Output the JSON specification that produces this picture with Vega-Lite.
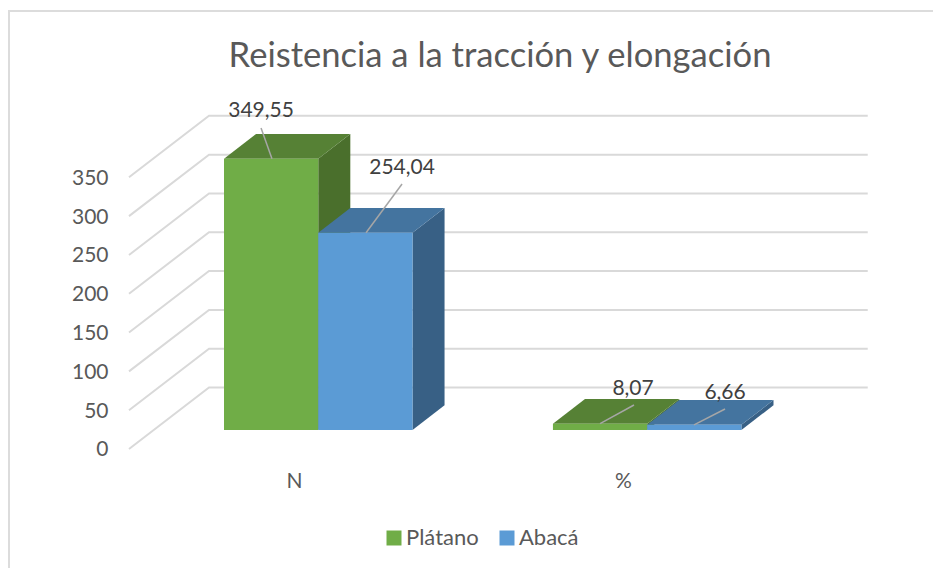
{
"$schema":"https://vega.github.io/schema/vega-lite/v6.json",
"width":933,"height":568,"padding":0,"autosize":"none","background":"white",
"title":{"text":"Reistencia a la tracción y elongación","orient":"top","anchor":"middle","offset":-68,"dx":33.5,"dy":7,"font":"Lato","fontSize":34.6,"fontWeight":"normal","color":"#595959"},
"config":{"view":{"stroke":null},"font":"Lato"},
"datasets":{
"frame":[{"u":-2.281,"v":-178},{"u":-2.281,"v":539.7},{"u":7.53,"v":539.7}],
"grid":[
{"tick":0,"u":-1.008,"v":-24.5},{"tick":0,"u":-0.159,"v":54.7},{"tick":0,"u":6.83,"v":54.7},
{"tick":50,"u":-1.008,"v":25.5},{"tick":50,"u":-0.159,"v":104.7},{"tick":50,"u":6.83,"v":104.7},
{"tick":100,"u":-1.008,"v":75.5},{"tick":100,"u":-0.159,"v":154.7},{"tick":100,"u":6.83,"v":154.7},
{"tick":150,"u":-1.008,"v":125.5},{"tick":150,"u":-0.159,"v":204.7},{"tick":150,"u":6.83,"v":204.7},
{"tick":200,"u":-1.008,"v":175.5},{"tick":200,"u":-0.159,"v":254.7},{"tick":200,"u":6.83,"v":254.7},
{"tick":250,"u":-1.008,"v":225.5},{"tick":250,"u":-0.159,"v":304.7},{"tick":250,"u":6.83,"v":304.7},
{"tick":300,"u":-1.008,"v":275.5},{"tick":300,"u":-0.159,"v":354.7},{"tick":300,"u":6.83,"v":354.7},
{"tick":350,"u":-1.008,"v":325.5},{"tick":350,"u":-0.159,"v":404.7},{"tick":350,"u":6.83,"v":404.7}],
"bars":[
{"categoria":"N","serie":"Plátano","valor":349.55,"base":0,"u0":0,"u1":1},
{"categoria":"N","serie":"Abacá","valor":254.04,"base":0,"u0":1,"u1":2},
{"categoria":"%","serie":"Plátano","valor":8.07,"base":0,"u0":3.49,"u1":4.49},
{"categoria":"%","serie":"Abacá","valor":6.66,"base":0,"u0":4.49,"u1":5.49}],
"sides":[
{"key":"N-P","serie":"Plátano","u":1,"low":0,"high":349.55},{"key":"N-P","serie":"Plátano","u":1.34,"low":31.8,"high":381.35},
{"key":"N-A","serie":"Abacá","u":2,"low":0,"high":254.04},{"key":"N-A","serie":"Abacá","u":2.34,"low":31.8,"high":285.84},
{"key":"P-P","serie":"Plátano","u":4.49,"low":0,"high":8.07},{"key":"P-P","serie":"Plátano","u":4.83,"low":31.8,"high":39.87},
{"key":"P-A","serie":"Abacá","u":5.49,"low":0,"high":6.66},{"key":"P-A","serie":"Abacá","u":5.83,"low":31.8,"high":38.46}],
"tops":[
{"key":"N-P","serie":"Plátano","v":349.55,"a":0,"b":1},{"key":"N-P","serie":"Plátano","v":381.35,"a":0.34,"b":1.34},
{"key":"N-A","serie":"Abacá","v":254.04,"a":1,"b":2},{"key":"N-A","serie":"Abacá","v":285.84,"a":1.34,"b":2.34},
{"key":"P-P","serie":"Plátano","v":8.07,"a":3.49,"b":4.49},{"key":"P-P","serie":"Plátano","v":39.87,"a":3.83,"b":4.83},
{"key":"P-A","serie":"Abacá","v":6.66,"a":4.49,"b":5.49},{"key":"P-A","serie":"Abacá","v":38.46,"a":4.83,"b":5.83}],
"labels":[
{"texto":"349,55","u":0.393,"v":412.2,"lu":0.393,"lv":389,"eu":0.509,"ev":349.55},
{"texto":"254,04","u":1.889,"v":340,"lu":1.889,"lv":316.9,"eu":1.507,"ev":254.04},
{"texto":"8,07","u":4.34,"v":54.1,"lu":4.35,"lv":32.2,"eu":3.99,"ev":8.07},
{"texto":"6,66","u":5.316,"v":50.2,"lu":5.316,"lv":27,"eu":4.987,"ev":6.66}]
},
"resolve":{"scale":{"color":"independent"}},
"layer":[
{"data":{"name":"frame"},"mark":{"type":"line","color":"#dcdcdc","strokeWidth":2,"clip":false},
 "encoding":{"x":{"field":"u","type":"quantitative","scale":{"domain":[-2.3767,7.5225],"nice":false,"zero":false},"axis":{"values":[0.743,4.233],"labelExpr":"datum.value<2?'N':'%'","orient":"bottom","offset":-98,"domain":false,"ticks":false,"grid":false,"title":null,"labelFontSize":21,"labelColor":"#595959","labelFont":"Lato","labelPadding":0,"labelBound":false,"labelFlush":false}},
 "y":{"field":"v","type":"quantitative","scale":{"domain":[-177.8,553.9],"nice":false,"zero":false},"axis":{"values":[0,50,100,150,200,250,300,350],"orient":"left","offset":-108,"labelOffset":20,"domain":false,"ticks":false,"grid":false,"title":null,"labelFontSize":21,"labelColor":"#595959","labelFont":"Lato","labelPadding":0,"labelBound":false,"labelFlush":false}}}},
{"data":{"name":"grid"},"mark":{"type":"line","color":"#d9d9d9","strokeWidth":2},
 "encoding":{"x":{"field":"u","type":"quantitative"},"y":{"field":"v","type":"quantitative"},"detail":{"field":"tick","type":"nominal"},"order":{"field":"u","type":"quantitative"}}},
{"data":{"name":"sides"},"mark":{"type":"area","orient":"vertical"},
 "encoding":{"x":{"field":"u","type":"quantitative"},"y":{"field":"high","type":"quantitative"},"y2":{"field":"low"},"detail":{"field":"key","type":"nominal"},
 "color":{"field":"serie","type":"nominal","legend":null,"scale":{"domain":["Plátano","Abacá"],"range":["#4a6f2c","#386085"]}}}},
{"data":{"name":"tops"},"mark":{"type":"area","orient":"horizontal"},
 "encoding":{"y":{"field":"v","type":"quantitative"},"x":{"field":"a","type":"quantitative"},"x2":{"field":"b"},"detail":{"field":"key","type":"nominal"},
 "color":{"field":"serie","type":"nominal","legend":null,"scale":{"domain":["Plátano","Abacá"],"range":["#568135","#44749f"]}}}},
{"data":{"name":"bars"},"mark":{"type":"rect"},
 "encoding":{"x":{"field":"u0","type":"quantitative"},"x2":{"field":"u1"},"y":{"field":"valor","type":"quantitative"},"y2":{"field":"base"},
 "color":{"field":"serie","type":"nominal","title":null,"scale":{"domain":["Plátano","Abacá"],"range":["#70ad47","#5b9bd5"]},
 "legend":{"orient":"none","legendX":383,"legendY":527,"direction":"horizontal","symbolType":"square","symbolSize":225,"symbolStrokeWidth":0,"labelFontSize":22,"labelColor":"#595959","labelFont":"Lato","columnPadding":17,"labelOffset":1}}}},
{"data":{"name":"labels"},"mark":{"type":"rule","color":"#a6a6a6","strokeWidth":1.5},
 "encoding":{"x":{"field":"lu","type":"quantitative"},"x2":{"field":"eu"},"y":{"field":"lv","type":"quantitative"},"y2":{"field":"ev"}}},
{"data":{"name":"labels"},"mark":{"type":"text","font":"Lato","fontSize":21,"color":"#404040","align":"center","baseline":"middle","dy":1.5},
 "encoding":{"x":{"field":"u","type":"quantitative"},"y":{"field":"v","type":"quantitative"},"text":{"field":"texto","type":"nominal"}}}
]
}
